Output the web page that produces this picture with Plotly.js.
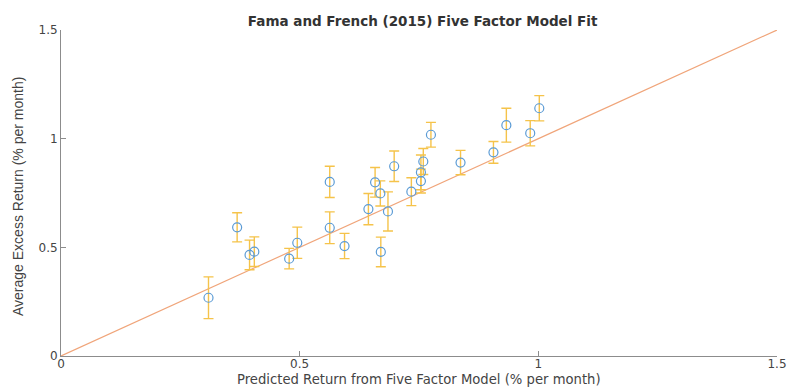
<!DOCTYPE html>
<html>
<head>
<meta charset="utf-8">
<script src="https://cdn.plot.ly/plotly-3.0.1.min.js"></script>
<style>
  html, body { margin: 0; padding: 0; background: #ffffff; }
  #chart { width: 787px; height: 387px; }
</style>
</head>
<body>
<div id="chart"></div>
<script>
// 25 size/value portfolios: model-predicted vs realised average excess return (% per month)
const predicted = [0.309, 0.369, 0.395, 0.405, 0.478, 0.495, 0.563, 0.563, 0.594, 0.644,
                   0.658, 0.669, 0.670, 0.685, 0.698, 0.734, 0.754, 0.754, 0.759, 0.775,
                   0.837, 0.906, 0.933, 0.983, 1.002];
const realised  = [0.268, 0.592, 0.465, 0.480, 0.448, 0.521, 0.590, 0.801, 0.506, 0.676,
                   0.799, 0.748, 0.479, 0.665, 0.873, 0.756, 0.805, 0.845, 0.895, 1.018,
                   0.890, 0.937, 1.062, 1.025, 1.140];
const stdError  = [0.096, 0.067, 0.068, 0.068, 0.047, 0.072, 0.073, 0.072, 0.058, 0.072,
                   0.068, 0.058, 0.068, 0.090, 0.070, 0.064, 0.055, 0.080, 0.060, 0.057,
                   0.056, 0.050, 0.078, 0.058, 0.058];
// 45-degree reference line: perfect model fit
const fitLine = [0, 1.5];

const xTicks = [0, 0.5, 1, 1.5];
const yTicks = [0, 0.5, 1, 1.5];
const tickText = ['0', '0.5', '1', '1.5'];

const titleText = 'Fama and French (2015) Five Factor Model Fit';
const xLabel = 'Predicted Return from Five Factor Model (% per month)';
const yLabel = 'Average Excess Return (% per month)';

const WIDE = 'DejaVu Sans, Verdana, sans-serif';
const NARROW = 'Liberation Sans, Arial, sans-serif';

const traces = [
  {
    x: fitLine, y: fitLine,
    type: 'scatter', mode: 'lines',
    line: { color: '#f0a57a', width: 1.2 },
    hoverinfo: 'skip', showlegend: false
  },
  {
    x: predicted, y: realised,
    type: 'scatter', mode: 'markers',
    marker: { symbol: 'circle-open', size: 9, color: '#5b9bd5', line: { width: 1.2, color: '#5b9bd5' } },
    error_y: { type: 'data', array: stdError, visible: true, color: '#f5c34a', thickness: 1.4, width: 5 },
    showlegend: false
  }
];

const axisCommon = {
  showgrid: false, zeroline: false,
  showline: true, linecolor: '#8c8c8c', linewidth: 1,
  ticks: 'inside', ticklen: 5, tickwidth: 1, tickcolor: '#8c8c8c',
  tickfont: { family: WIDE, size: 12, color: '#444444' },
  range: [0, 1.5], fixedrange: true, automargin: false
};

const layout = {
  width: 787, height: 387,
  margin: { l: 61, r: 10, t: 30, b: 31 },
  paper_bgcolor: '#ffffff', plot_bgcolor: '#ffffff',
  title: {
    text: '<b>' + titleText + '</b>',
    font: { family: WIDE, size: 13.5, color: '#333333' },
    x: 0.537, xanchor: 'center', y: 0.946, yanchor: 'middle'
  },
  xaxis: Object.assign({}, axisCommon, { tickvals: xTicks, ticktext: tickText, ticklabelstandoff: -3 }),
  yaxis: Object.assign({}, axisCommon, { tickvals: yTicks, ticktext: tickText }),
  annotations: [
    {
      text: xLabel, xref: 'paper', yref: 'paper', x: 0.5, y: 0,
      xanchor: 'center', yanchor: 'middle', yshift: -23.5, showarrow: false,
      font: { family: WIDE, size: 13.2, color: '#444444' }
    },
    {
      text: yLabel, xref: 'paper', yref: 'paper', x: 0, y: 0.5,
      xanchor: 'center', yanchor: 'middle', xshift: -43, yshift: -4, textangle: -90, showarrow: false,
      font: { family: NARROW, size: 14, color: '#444444' }
    }
  ]
};

Plotly.newPlot('chart', traces, layout, { displayModeBar: false, staticPlot: true });
</script>
</body>
</html>
